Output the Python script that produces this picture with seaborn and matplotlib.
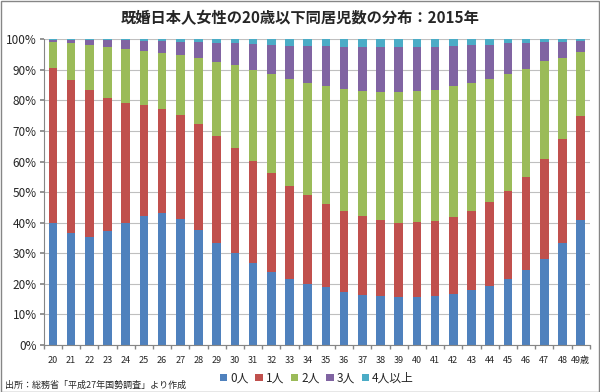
import matplotlib
matplotlib.use("Agg")
import matplotlib.pyplot as plt
from matplotlib.patches import Rectangle
import numpy as np
import seaborn as sns

# Données : part (%) de chaque nombre d'enfants par âge
ages = [str(a) for a in range(20, 49)] + ["49歳"]
categories = ["0人", "1人", "2人", "3人", "4人以上"]
kids_0 = [39.8, 36.5, 35.2, 37.2, 39.8, 42.3, 43.0, 41.1, 37.7, 33.5,
          30.0, 26.7, 24.0, 21.7, 20.1, 18.8, 17.4, 16.5, 15.9, 15.6,
          15.8, 16.0, 16.8, 18.1, 19.4, 21.5, 24.5, 28.2, 33.4, 40.8]
kids_1 = [50.8, 50.3, 48.2, 43.6, 39.2, 36.1, 34.2, 34.1, 34.6, 34.9,
          34.4, 33.5, 32.2, 30.4, 29.0, 27.3, 26.4, 25.6, 24.9, 24.4,
          24.4, 24.5, 25.1, 25.7, 27.3, 28.8, 30.5, 32.5, 34.0, 34.0]
kids_2 = [8.6, 11.9, 14.7, 16.7, 17.8, 17.8, 18.2, 19.7, 21.6, 24.1,
          27.0, 29.7, 32.3, 34.9, 36.7, 38.7, 40.0, 41.0, 42.0, 42.8,
          42.9, 43.0, 42.7, 42.0, 40.2, 38.4, 35.3, 32.2, 26.6, 21.1]
kids_3 = [0.5, 1.1, 1.6, 2.2, 2.9, 3.3, 4.1, 4.3, 5.2, 6.4,
          7.3, 8.6, 9.6, 10.9, 12.0, 12.9, 13.7, 14.4, 14.5, 14.7,
          14.4, 14.1, 13.3, 12.3, 11.2, 10.0, 8.6, 6.2, 5.2, 3.6]
kids_4 = [0.3, 0.2, 0.3, 0.3, 0.3, 0.5, 0.5, 0.8, 0.9, 1.1,
          1.3, 1.5, 1.9, 2.1, 2.2, 2.3, 2.5, 2.5, 2.7, 2.5,
          2.5, 2.4, 2.1, 1.9, 1.9, 1.3, 1.1, 0.9, 0.8, 0.5]
series = [kids_0, kids_1, kids_2, kids_3, kids_4]
colors = ["#4F81BD", "#C0504D", "#9BBB59", "#8064A2", "#4BACC6"]

sns.set_theme(style="white")
plt.rcParams["font.family"] = ["Noto Sans CJK JP", "DejaVu Sans"]

fig = plt.figure(figsize=(6, 3.92), dpi=100)
ax = fig.add_axes([0.073, 0.12, 0.910, 0.78])

# Barres empilées (normalisées à 100 %)
total = np.sum(np.array(series), axis=0)
bottom = np.zeros(len(ages))
for cat, vals, col in zip(categories, series, colors):
    vals = np.array(vals) / total * 100
    sns.barplot(x=ages, y=vals, bottom=bottom, color=col, width=0.47,
                label=cat, ax=ax, saturation=1, linewidth=0)
    bottom += vals

ax.set_ylim(0, 100)
ax.set_xlim(-0.5, len(ages) - 0.5)
ax.set_yticks(np.arange(0, 101, 10))
ax.set_yticklabels([f"{v}%" for v in range(0, 101, 10)], fontsize=8.5)
ax.set_xticks(range(len(ages)))
ax.set_xticklabels(ages, fontsize=6.5)
ax.set_xlabel("")
ax.set_ylabel("")
ax.yaxis.grid(True, color="#BFBFBF", linewidth=0.8)
ax.set_axisbelow(True)
for s in ["top", "right"]:
    ax.spines[s].set_visible(False)
for s in ["left", "bottom"]:
    ax.spines[s].set_color("#868686")
    ax.spines[s].set_linewidth(0.8)
ax.tick_params(axis="y", left=True, length=3, color="#868686", pad=2)
ax.tick_params(axis="x", bottom=False, pad=2)
ax.set_xticks(np.arange(-0.5, len(ages), 1), minor=True)
ax.tick_params(axis="x", which="minor", bottom=True, length=3, color="#868686")

ax.legend(loc="center", bbox_to_anchor=(0.5, -0.108), ncol=5, frameon=False,
          fontsize=8.5, handlelength=0.6, handleheight=0.6, handletextpad=0.25,
          columnspacing=0.6, borderpad=0)

fig.suptitle("既婚日本人女性の20歳以下同居児数の分布：2015年", y=0.975,
             fontsize=11, fontweight="bold")
fig.text(0.008, 0.01, "出所：総務省「平成27年国勢調査」より作成", fontsize=6.5)
fig.patches.append(Rectangle((0.001, 0.001), 0.997, 0.996, transform=fig.transFigure,
                             fill=False, edgecolor="#868686", linewidth=1))

fig.savefig("out.png", dpi=100)
